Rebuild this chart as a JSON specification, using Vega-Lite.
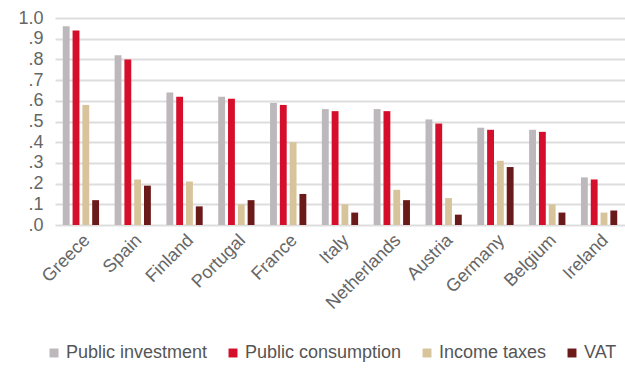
{
  "$schema": "https://vega.github.io/schema/vega-lite/v6.json",
  "width": 570,
  "height": 207,
  "autosize": {"type": "none"},
  "padding": {"left": 55, "top": 18, "right": 0, "bottom": 149},
  "background": "white",
  "config": {
    "font": "Liberation Sans",
    "view": {"stroke": null}
  },
  "data": {
    "values": [
      {"country": "Greece", "series": "Public investment", "value": 0.96},
      {"country": "Greece", "series": "Public consumption", "value": 0.94},
      {"country": "Greece", "series": "Income taxes", "value": 0.58},
      {"country": "Greece", "series": "VAT", "value": 0.12},
      {"country": "Spain", "series": "Public investment", "value": 0.82},
      {"country": "Spain", "series": "Public consumption", "value": 0.80},
      {"country": "Spain", "series": "Income taxes", "value": 0.22},
      {"country": "Spain", "series": "VAT", "value": 0.19},
      {"country": "Finland", "series": "Public investment", "value": 0.64},
      {"country": "Finland", "series": "Public consumption", "value": 0.62},
      {"country": "Finland", "series": "Income taxes", "value": 0.21},
      {"country": "Finland", "series": "VAT", "value": 0.09},
      {"country": "Portugal", "series": "Public investment", "value": 0.62},
      {"country": "Portugal", "series": "Public consumption", "value": 0.61},
      {"country": "Portugal", "series": "Income taxes", "value": 0.10},
      {"country": "Portugal", "series": "VAT", "value": 0.12},
      {"country": "France", "series": "Public investment", "value": 0.59},
      {"country": "France", "series": "Public consumption", "value": 0.58},
      {"country": "France", "series": "Income taxes", "value": 0.40},
      {"country": "France", "series": "VAT", "value": 0.15},
      {"country": "Italy", "series": "Public investment", "value": 0.56},
      {"country": "Italy", "series": "Public consumption", "value": 0.55},
      {"country": "Italy", "series": "Income taxes", "value": 0.10},
      {"country": "Italy", "series": "VAT", "value": 0.06},
      {"country": "Netherlands", "series": "Public investment", "value": 0.56},
      {"country": "Netherlands", "series": "Public consumption", "value": 0.55},
      {"country": "Netherlands", "series": "Income taxes", "value": 0.17},
      {"country": "Netherlands", "series": "VAT", "value": 0.12},
      {"country": "Austria", "series": "Public investment", "value": 0.51},
      {"country": "Austria", "series": "Public consumption", "value": 0.49},
      {"country": "Austria", "series": "Income taxes", "value": 0.13},
      {"country": "Austria", "series": "VAT", "value": 0.05},
      {"country": "Germany", "series": "Public investment", "value": 0.47},
      {"country": "Germany", "series": "Public consumption", "value": 0.46},
      {"country": "Germany", "series": "Income taxes", "value": 0.31},
      {"country": "Germany", "series": "VAT", "value": 0.28},
      {"country": "Belgium", "series": "Public investment", "value": 0.46},
      {"country": "Belgium", "series": "Public consumption", "value": 0.45},
      {"country": "Belgium", "series": "Income taxes", "value": 0.10},
      {"country": "Belgium", "series": "VAT", "value": 0.06},
      {"country": "Ireland", "series": "Public investment", "value": 0.23},
      {"country": "Ireland", "series": "Public consumption", "value": 0.22},
      {"country": "Ireland", "series": "Income taxes", "value": 0.06},
      {"country": "Ireland", "series": "VAT", "value": 0.07}
    ]
  },
  "mark": {"type": "bar"},
  "encoding": {
    "x": {
      "field": "country",
      "type": "nominal",
      "sort": null,
      "title": null,
      "scale": {"paddingInner": 0.3, "paddingOuter": 0.15},
      "axis": {
        "labelAngle": -45,
        "labelFontSize": 18,
        "labelColor": "#666666",
        "domain": false,
        "ticks": false,
        "labelPadding": 6,
        "labelOverlap": false
      }
    },
    "xOffset": {
      "field": "series",
      "type": "nominal",
      "sort": ["Public investment", "Public consumption", "Income taxes", "VAT"],
      "scale": {"paddingInner": 0.3}
    },
    "y": {
      "field": "value",
      "type": "quantitative",
      "title": null,
      "scale": {"domain": [0, 1]},
      "axis": {
        "values": [0, 0.1, 0.2, 0.3, 0.4, 0.5, 0.6, 0.7, 0.8, 0.9, 1.0],
        "labelExpr": "replace(format(datum.value, '.1f'), '0.', '.')",
        "labelFontSize": 18,
        "labelColor": "#666666",
        "labelOverlap": false,
        "domain": false,
        "ticks": false,
        "labelPadding": 12,
        "gridColor": "#dddddd",
        "gridWidth": 2
      }
    },
    "color": {
      "field": "series",
      "type": "nominal",
      "sort": ["Public investment", "Public consumption", "Income taxes", "VAT"],
      "scale": {
        "domain": ["Public investment", "Public consumption", "Income taxes", "VAT"],
        "range": ["#bdb8bb", "#d50f2b", "#d8c49b", "#6b1a1a"]
      },
      "legend": {
        "title": null,
        "orient": "none",
        "direction": "horizontal",
        "legendX": -10,
        "legendY": 326,
        "symbolType": "square",
        "symbolSize": 80,
        "symbolStrokeWidth": 0,
        "labelFontSize": 18,
        "labelColor": "#555555",
        "labelOffset": 3,
        "columnPadding": 16
      }
    }
  }
}
